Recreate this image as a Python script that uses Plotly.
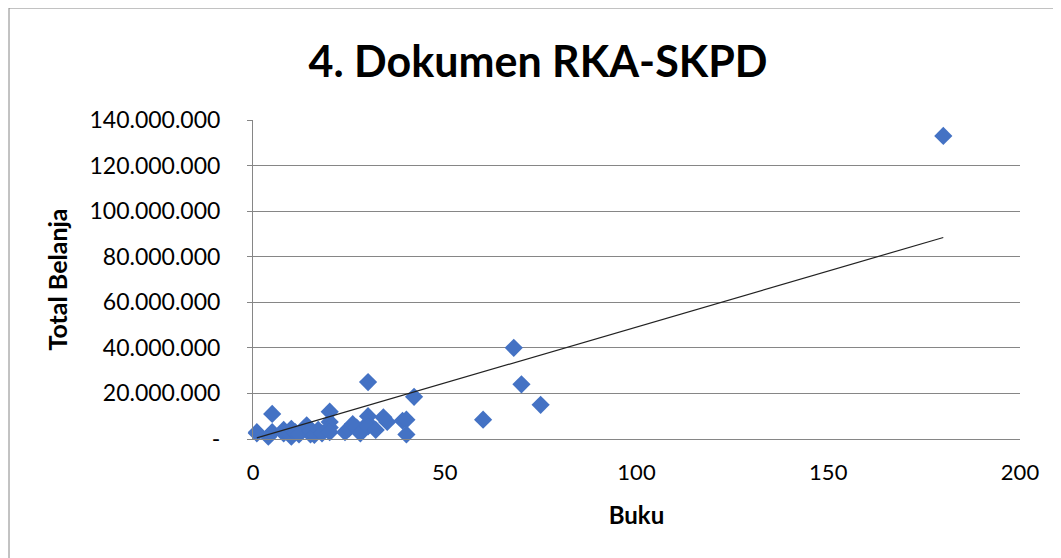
import plotly.graph_objects as go

# Buku (x) vs Total Belanja (y)
buku = [1, 1, 4, 5, 5, 8, 8, 10, 10, 11, 12, 14, 15, 15, 16, 17, 18, 20, 20, 20, 20,
        24, 25, 26, 27, 28, 30, 30, 30, 30, 32, 34, 35, 39, 40, 40, 42, 60, 68, 70, 75, 180]
total_belanja = [3.0, 2.5, 1.0, 3.0, 11.0, 2.5, 4.0, 1.0, 4.5, 3.0, 2.0, 6.0, 2.0, 3.5, 1.8, 4.0,
                 2.5, 12.0, 7.5, 5.0, 3.0, 3.0, 4.5, 6.5, 5.0, 2.5, 25.0, 10.0, 7.0, 5.5, 4.0,
                 9.5, 7.5, 8.0, 8.5, 2.0, 18.5, 8.5, 40.0, 24.0, 15.0, 133.0]
total_belanja = [v * 1e6 for v in total_belanja]

y_ticks = [0, 20e6, 40e6, 60e6, 80e6, 100e6, 120e6, 140e6]
y_tick_labels = ["-", "20.000.000", "40.000.000", "60.000.000", "80.000.000",
                 "100.000.000", "120.000.000", "140.000.000"]
x_ticks = [0, 50, 100, 150, 200]

# linear trendline with intercept set to 0 (Excel option)
slope = sum(a * b for a, b in zip(buku, total_belanja)) / sum(a * a for a in buku)
trend_x = [min(buku), max(buku)]
trend_y = [slope * v for v in trend_x]

fig = go.Figure()
fig.add_trace(go.Scatter(x=buku, y=total_belanja, mode="markers", cliponaxis=False,
                         marker=dict(symbol="diamond", size=14, color="#4472C4",
                                     line=dict(width=0)),
                         showlegend=False))
fig.add_trace(go.Scatter(x=trend_x, y=trend_y, mode="lines",
                         line=dict(color="#222222", width=1.2), showlegend=False))

# page body adds an 8px offset, so the figure is 8px smaller and shifted back
fig.update_layout(
    width=1053, height=550,
    margin=dict(l=245, r=41, t=112, b=119),
    paper_bgcolor="white", plot_bgcolor="white",
    font=dict(family="Lato", color="black"),
    title=dict(text="<b>4. Dokumen RKA-SKPD</b>", x=530 / 1053, xanchor="center",
               y=1 - 54 / 550, yanchor="middle", font=dict(size=43, family="Lato")),
    xaxis=dict(range=[0, 200], tickvals=x_ticks, showgrid=False, zeroline=False,
               showline=True, linecolor="#868686", linewidth=1,
               tickfont=dict(size=22), ticks="", ticklabelstandoff=14,
               title=dict(text="<b>Buku</b>", font=dict(size=24), standoff=22)),
    yaxis=dict(range=[0, 140e6], tickvals=y_ticks, ticktext=y_tick_labels,
               showgrid=True, gridcolor="#868686", gridwidth=1, zeroline=False,
               showline=True, linecolor="#868686", linewidth=1,
               ticks="outside", ticklen=5, tickcolor="#868686",
               tickfont=dict(size=23), ticklabelstandoff=22,
               title=dict(text="<b>Total Belanja</b>", font=dict(size=25), standoff=14)),
    shapes=[dict(type="rect", xref="paper", yref="paper",
                 x0=(9 - 253) / 767, x1=(1080 - 253) / 767,
                 y0=(439 - 580) / 319, y1=(439 - 8) / 319,
                 line=dict(color="#868686", width=1), fillcolor="rgba(0,0,0,0)")],
)

fig.write_html("out.html")
